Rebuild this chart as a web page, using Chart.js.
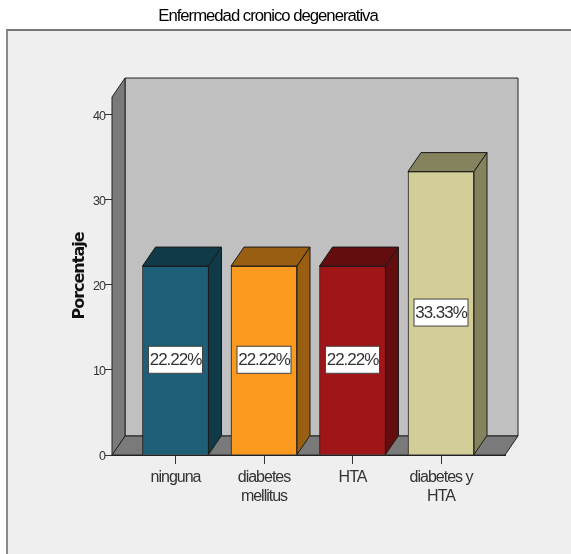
<!DOCTYPE html>
<html>
<head>
<meta charset="utf-8">
<script src="https://cdn.jsdelivr.net/npm/chart.js@4"></script>
<style>
  html, body { margin: 0; padding: 0; background: #fff; overflow: hidden; }
  #marco { position: absolute; left: 6px; top: 29px; width: 565px; height: 525px; background: #efefef; border-left: 2px solid #8a8a8a; border-top: 2px solid #777; }
  #caja { position: absolute; left: 0; top: 0; width: 536px; height: 554px; }
</style>
</head>
<body>
<div id="marco"></div>
<div id="caja"><canvas id="grafico"></canvas></div>
<script>
const titulo = "Enfermedad cronico degenerativa";
const ejeY = "Porcentaje";
const categorias = [["ninguna"], ["diabetes", "mellitus"], ["HTA"], ["diabetes y", "HTA"]];
const porcentajes = [22.22, 22.22, 22.22, 33.33];
const etiquetas = ["22.22%", "22.22%", "22.22%", "33.33%"];

const colores = ["#1c5f77", "#fb9a1f", "#a01518", "#d3ce97"];
const colores_lado = ["#103a47", "#9a5e13", "#630d0f", "#85825e"];

// profundidad del efecto 3D
const fondo_x = 13;
const fondo_y = 19;

function poligono(ctx, puntos, relleno) {
  ctx.beginPath();
  puntos.forEach((p, i) => (i ? ctx.lineTo(p[0], p[1]) : ctx.moveTo(p[0], p[1])));
  ctx.closePath();
  ctx.fillStyle = relleno;
  ctx.fill();
  ctx.stroke();
}

// no hay fuente angosta instalada: se aprieta el texto
const angosto = {
  id: "angosto",
  beforeDraw(chart) { chart.ctx.letterSpacing = "-1px"; },
};

const paredes = {
  id: "paredes",
  beforeDatasetsDraw(chart) {
    const { ctx, chartArea: a } = chart;
    ctx.save();
    ctx.lineWidth = 1;
    ctx.strokeStyle = "#222";
    // fondo
    poligono(ctx, [[a.left + fondo_x, a.top - fondo_y], [a.right + fondo_x, a.top - fondo_y], [a.right + fondo_x, a.bottom - fondo_y], [a.left + fondo_x, a.bottom - fondo_y]], "#c0c0c0");
    // piso y pared izquierda
    poligono(ctx, [[a.left, a.bottom], [a.right, a.bottom], [a.right + fondo_x, a.bottom - fondo_y], [a.left + fondo_x, a.bottom - fondo_y]], "#7a7a7a");
    poligono(ctx, [[a.left, a.top], [a.left + fondo_x, a.top - fondo_y], [a.left + fondo_x, a.bottom - fondo_y], [a.left, a.bottom]], "#7a7a7a");
    ctx.restore();
  },
};

const barras3d = {
  id: "barras3d",
  afterDatasetsDraw(chart) {
    const ctx = chart.ctx;
    ctx.save();
    ctx.lineWidth = 1;
    chart.getDatasetMeta(0).data.forEach((bar, i) => {
      const izq = bar.x - bar.width / 2;
      const der = bar.x + bar.width / 2;
      ctx.strokeStyle = "#1a1a1a";
      poligono(ctx, [[izq, bar.y], [izq + fondo_x, bar.y - fondo_y], [der + fondo_x, bar.y - fondo_y], [der, bar.y]], colores_lado[i]);
      poligono(ctx, [[der, bar.y], [der + fondo_x, bar.y - fondo_y], [der + fondo_x, bar.base - fondo_y], [der, bar.base]], colores_lado[i]);
      // etiqueta de valor
      const medio = (bar.y + bar.base) / 2;
      ctx.fillStyle = "#fff";
      ctx.strokeStyle = "#444";
      ctx.fillRect(bar.x - 27, medio - 14, 54, 27);
      ctx.strokeRect(bar.x - 27, medio - 14, 54, 27);
      ctx.fillStyle = "#333";
      ctx.font = "17px 'Liberation Sans'";
      ctx.textAlign = "center";
      ctx.textBaseline = "middle";
      ctx.fillText(etiquetas[i], bar.x, medio + 0.5);
    });
    ctx.restore();
  },
};

new Chart(document.getElementById("grafico"), {
  type: "bar",
  data: {
    datasets: [{
      data: porcentajes.map((v, i) => ({ x: i, y: v })),
      backgroundColor: colores,
      borderColor: "#1a1a1a",
      borderWidth: 1,
      barThickness: 66,
    }],
  },
  plugins: [angosto, paredes, barras3d],
  options: {
    responsive: true,
    maintainAspectRatio: false,
    animation: false,
    layout: { padding: { left: 31, right: 31, top: 0, bottom: 0 } },
    plugins: {
      legend: { display: false },
      tooltip: { enabled: false },
      title: {
        display: true,
        text: titulo,
        color: "#000",
        font: { family: "'Liberation Sans'", size: 16.7, weight: "normal" },
        padding: { top: 6, bottom: 71 },
      },
    },
    scales: {
      x: {
        type: "linear",
        offset: false,
        min: -0.7175,
        max: 3.723,
        afterBuildTicks: (eje) => { eje.ticks = categorias.map((c, i) => ({ value: i })); },
        afterFit: (eje) => { eje.height = 99; },
        grid: { offset: false, drawOnChartArea: false, tickLength: 9, tickColor: "#333" },
        border: { color: "#222" },
        ticks: {
          callback: (v) => categorias[v],
          color: "#333",
          padding: 4,
          autoSkip: false,
          maxRotation: 0,
          font: { family: "'Liberation Sans'", size: 16 },
        },
      },
      y: {
        min: 0,
        max: 42.1,
        afterFit: (eje) => { eje.width = 81; },
        grid: { drawOnChartArea: false, tickLength: 7, tickColor: "#333" },
        border: { color: "#222" },
        title: {
          display: true,
          text: ejeY,
          color: "#111",
          font: { family: "'DejaVu Sans'", size: 16, weight: "bold" },
          padding: { top: 39, bottom: 0 },
        },
        ticks: {
          stepSize: 10,
          includeBounds: false,
          color: "#333",
          padding: 0,
          labelOffset: 1.5,
          font: { family: "'Liberation Sans'", size: 12.5 },
        },
      },
    },
  },
});
</script>
</body>
</html>
